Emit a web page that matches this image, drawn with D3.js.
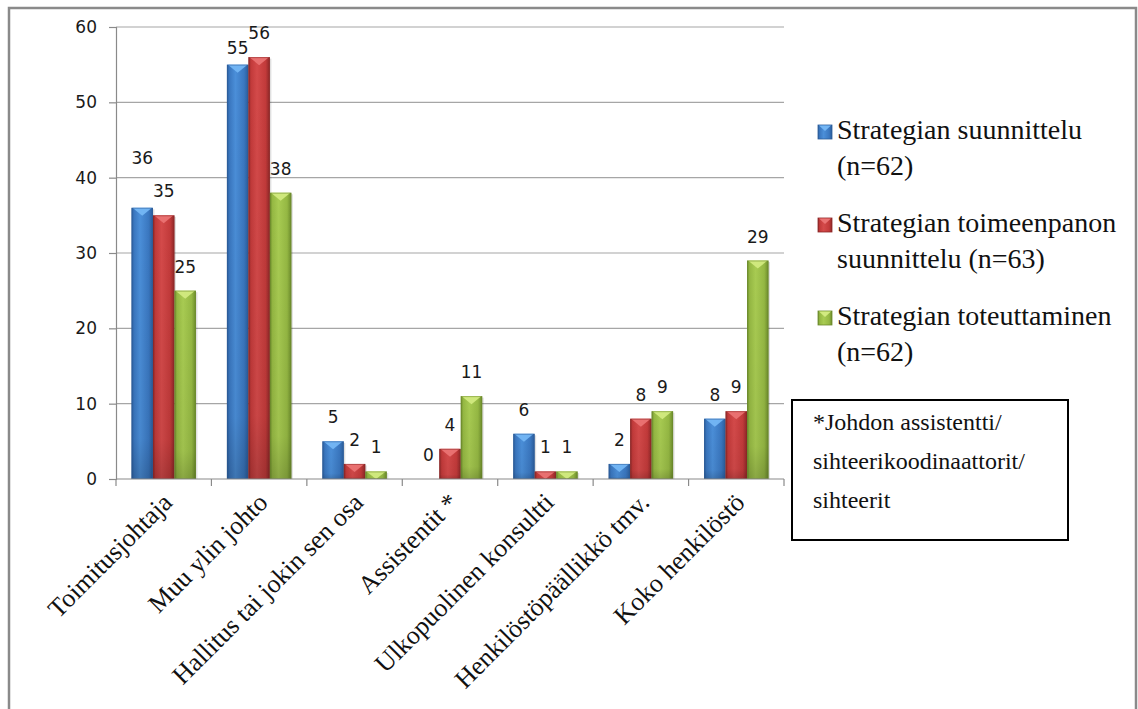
<!DOCTYPE html>
<html>
<head>
<meta charset="utf-8">
<script src="https://cdn.jsdelivr.net/npm/d3@7/dist/d3.min.js"></script>
<style>
  html, body { margin: 0; padding: 0; background: #ffffff; }
  svg { display: block; }
</style>
</head>
<body>
<svg id="chart" width="1138" height="709"></svg>
<script>
// Who takes part in each phase of strategy work (number of respondents)
const categories = [
  "Toimitusjohtaja",
  "Muu ylin johto",
  "Hallitus tai jokin sen osa",
  "Assistentit *",
  "Ulkopuolinen konsultti",
  "Henkilöstöpäällikkö tmv.",
  "Koko henkilöstö"
];
const seriesNames = [
  ["Strategian suunnittelu", "(n=62)"],
  ["Strategian toimeenpanon", "suunnittelu (n=63)"],
  ["Strategian toteuttaminen", "(n=62)"]
];
const suunnittelu = [36, 55, 5, 0, 6, 2, 8];
const toimeenpano = [35, 56, 2, 4, 1, 8, 9];
const toteutus    = [25, 38, 1, 11, 1, 9, 29];
const yTicks = [0, 10, 20, 30, 40, 50, 60];
const noteLines = ["*Johdon assistentti/", "sihteerikoodinaattorit/", "sihteerit"];

const seriesValues = [suunnittelu, toimeenpano, toteutus];

// bevelled bar colouring: [edge, body, highlight, cap]
const palettes = [
  ["#2b5c99", "#3a77c0", "#4b8fd9", "#74b6f4"],
  ["#8c2727", "#c23a3a", "#d44a4a", "#ea7373"],
  ["#6b8a2b", "#95b843", "#a8cb52", "#d2ea80"]
];

const svg = d3.select("#chart");

// outer frame
svg.append("rect")
  .attr("x", 9).attr("y", 8)
  .attr("width", 1127).attr("height", 720)
  .attr("fill", "#fff")
  .attr("stroke", "#8a8a8a").attr("stroke-width", 2.5);

const plot = { left: 116, right: 784, top: 27, bottom: 479 };

const x0 = d3.scaleBand().domain(d3.range(categories.length))
  .range([plot.left, plot.right]).paddingInner(0).paddingOuter(0);
const x1 = d3.scaleBand().domain(d3.range(seriesValues.length))
  .range([0, x0.bandwidth()]).paddingInner(0).paddingOuter(0.72);
const y = d3.scaleLinear().domain([0, 60]).range([plot.bottom, plot.top]);

// gradients
const defs = svg.append("defs");
palettes.forEach((p, i) => {
  const g = defs.append("linearGradient").attr("id", "bar" + i)
    .attr("x1", "0").attr("x2", "1").attr("y1", "0").attr("y2", "0");
  [[0, p[0]], [0.12, p[1]], [0.4, p[2]], [0.8, p[1]], [1, p[0]]].forEach(s =>
    g.append("stop").attr("offset", s[0]).attr("stop-color", s[1]));
  const v = defs.append("linearGradient").attr("id", "shade" + i)
    .attr("x1", "0").attr("x2", "0").attr("y1", "0").attr("y2", "1");
  v.append("stop").attr("offset", 0).attr("stop-color", "#000").attr("stop-opacity", 0);
  v.append("stop").attr("offset", 0.85).attr("stop-color", "#000").attr("stop-opacity", 0.05);
  v.append("stop").attr("offset", 1).attr("stop-color", "#000").attr("stop-opacity", 0.18);
});

// gridlines
const grid = svg.append("g");
grid.selectAll("line").data(yTicks.filter(t => t > 0)).join("line")
  .attr("x1", plot.left).attr("x2", plot.right)
  .attr("y1", d => y(d)).attr("y2", d => y(d))
  .attr("stroke", "#a6a6a6").attr("stroke-width", 1.2);

// y axis
const yAxis = svg.append("g").attr("transform", `translate(${plot.left},0)`)
  .call(d3.axisLeft(y).tickValues(yTicks).tickSize(7).tickPadding(12));
yAxis.select(".domain").attr("stroke", "#8a8a8a").attr("stroke-width", 1.2);
yAxis.selectAll(".tick line").attr("stroke", "#8a8a8a").attr("stroke-width", 1.2);
yAxis.selectAll(".tick text")
  .attr("font-family", "'DejaVu Sans', Verdana, sans-serif")
  .attr("font-size", 17).attr("fill", "#1a1a1a");

// bars
const barG = svg.append("g");
categories.forEach((c, ci) => {
  seriesValues.forEach((vals, si) => {
    const v = vals[ci];
    if (v <= 0) return;
    const bx = x0(ci) + x1(si), bw = x1.bandwidth();
    const by = y(v), bh = y(0) - y(v);
    const p = palettes[si];
    barG.append("rect").attr("x", bx + 1.5).attr("y", by + 1.5)
      .attr("width", bw).attr("height", bh - 1.5)
      .attr("fill", "#000").attr("opacity", 0.12);
    barG.append("rect").attr("x", bx).attr("y", by)
      .attr("width", bw).attr("height", bh)
      .attr("fill", `url(#bar${si})`);
    barG.append("rect").attr("x", bx).attr("y", by)
      .attr("width", bw).attr("height", bh)
      .attr("fill", `url(#shade${si})`);
    const cap = Math.min(8, bh);
    barG.append("polygon")
      .attr("points", [[bx + 1, by], [bx + bw - 1, by], [bx + bw / 2, by + cap]].map(d => d.join(",")).join(" "))
      .attr("fill", p[3]).attr("opacity", 0.95);
    barG.append("rect").attr("x", bx + 0.5).attr("y", by + 0.5)
      .attr("width", bw - 1).attr("height", bh - 1)
      .attr("fill", "none").attr("stroke", p[0]).attr("stroke-opacity", 0.5);
  });
});

// x axis
const xAxis = svg.append("g");
xAxis.append("line").attr("x1", plot.left).attr("x2", plot.right)
  .attr("y1", plot.bottom).attr("y2", plot.bottom)
  .attr("stroke", "#8a8a8a").attr("stroke-width", 1.2);
xAxis.selectAll("line.tk").data(d3.range(categories.length + 1)).join("line")
  .attr("class", "tk")
  .attr("x1", d => plot.left + d * x0.step()).attr("x2", d => plot.left + d * x0.step())
  .attr("y1", plot.bottom).attr("y2", plot.bottom + 7)
  .attr("stroke", "#8a8a8a").attr("stroke-width", 1.2);
xAxis.selectAll("text").data(categories).join("text")
  .attr("transform", (d, i) => `translate(${x0(i) + x0.bandwidth() / 2 + 10},${plot.bottom + 25}) rotate(-45)`)
  .attr("text-anchor", "end")
  .attr("font-family", "'Liberation Serif', 'Times New Roman', serif")
  .attr("font-size", 26).attr("fill", "#111")
  .text(d => d);

// value labels; a couple are lifted/lowered to keep clear of neighbours
const labelShift = { "0-0": -26, "1-0": 7 };
const lblG = svg.append("g")
  .attr("font-family", "'DejaVu Sans', Verdana, sans-serif")
  .attr("font-size", 17).attr("fill", "#1a1a1a").attr("text-anchor", "middle");
categories.forEach((c, ci) => {
  seriesValues.forEach((vals, si) => {
    const v = vals[ci];
    const bx = x0(ci) + x1(si) + x1.bandwidth() / 2;
    lblG.append("text").attr("x", bx)
      .attr("y", y(v) - 18 + (labelShift[ci + "-" + si] || 0))
      .text(v);
  });
});

// legend
const leg = svg.append("g").attr("font-family", "'Liberation Serif', 'Times New Roman', serif")
  .attr("font-size", 28).attr("fill", "#111");
seriesNames.forEach((lines, si) => {
  const base = 139 + si * 93;
  const p = palettes[si];
  leg.append("rect").attr("x", 818).attr("y", base - 14).attr("width", 14).attr("height", 14)
    .attr("fill", `url(#bar${si})`).attr("stroke", p[0]).attr("stroke-width", 0.8);
  leg.append("polygon")
    .attr("points", [[819, base - 13.5], [831, base - 13.5], [825, base - 8]].map(d => d.join(",")).join(" "))
    .attr("fill", p[3]);
  lines.forEach((t, li) => {
    leg.append("text").attr("x", 837).attr("y", base + li * 36).text(t);
  });
});

// footnote box
const note = svg.append("g");
note.append("rect").attr("x", 792).attr("y", 400).attr("width", 276).attr("height", 140)
  .attr("fill", "#fff").attr("stroke", "#000").attr("stroke-width", 2);
note.selectAll("text").data(noteLines).join("text")
  .attr("x", 813).attr("y", (d, i) => 430 + i * 39)
  .attr("font-family", "'Liberation Serif', 'Times New Roman', serif")
  .attr("font-size", 24).attr("fill", "#111")
  .text(d => d);
</script>
</body>
</html>
